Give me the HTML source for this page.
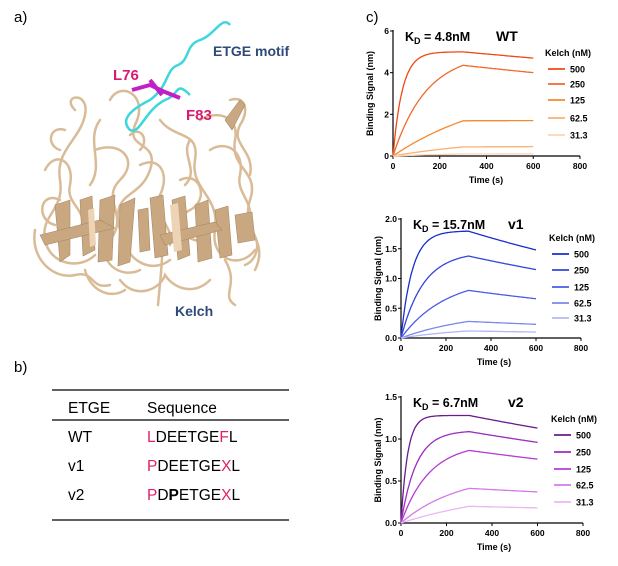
<!DOCTYPE html>
<html><head><meta charset="utf-8"><style>
body{margin:0;background:#fff;width:618px;height:561px;overflow:hidden;font-family:"Liberation Sans",Arial,sans-serif}
svg text{font-family:"Liberation Sans",Arial,sans-serif}
</style></head><body>
<svg id="s" width="618" height="561" viewBox="0 0 618 561">
<text x="14" y="22" font-size="15">a)</text>
<text x="14" y="372" font-size="15">b)</text>
<text x="366" y="22" font-size="15">c)</text>
<!-- protein -->
<g fill="none" stroke="#d9bc97" stroke-width="2.5" stroke-linecap="round">
<path d="M75 110 C60 95 90 90 85 115 C80 140 55 150 60 180 C65 210 40 215 45 240 C50 265 80 270 95 255"/>
<path d="M110 100 C120 80 150 95 135 125 C125 150 160 140 150 170 C140 200 110 190 120 230 C125 260 150 275 170 260"/>
<path d="M160 120 C175 140 200 130 195 160 C190 190 220 195 215 230 C210 260 240 270 255 250"/>
<path d="M200 120 C215 110 240 115 235 140 C230 170 260 170 250 200 C240 230 270 240 255 270"/>
<path d="M95 150 C120 140 140 160 120 180 C100 200 130 215 110 240 C95 260 120 280 140 270"/>
<path d="M230 100 C245 95 250 110 240 125 C230 145 255 150 250 175"/>
<path d="M60 200 C40 190 35 220 55 225"/>
<path d="M160 220 C165 250 160 280 158 305"/>
<path d="M180 180 C200 170 210 200 190 210 C170 220 185 245 205 240"/>
<path d="M130 135 C140 125 150 140 140 150"/>
<path d="M45 170 C55 150 75 160 70 185 C65 205 90 210 80 230"/>
<path d="M35 230 C30 260 55 280 75 275 C95 270 90 290 110 285"/>
<path d="M100 120 C85 140 105 165 90 185"/>
<path d="M140 165 C160 155 170 175 160 195 C150 215 175 225 170 245"/>
<path d="M210 150 C225 140 245 150 240 175 C235 195 260 205 245 225"/>
<path d="M120 280 C135 300 160 290 165 275 C175 290 195 295 210 280"/>
<path d="M225 260 C240 285 220 295 235 305"/>
<path d="M85 270 C90 290 110 300 125 290"/>
<path d="M190 140 C180 155 200 170 185 185"/>
<path d="M65 130 C50 125 45 145 60 150"/>
<path d="M250 230 C262 240 258 260 245 265"/>
</g>
<g fill="#c9a781" stroke="#a88a66" stroke-width="0.6">
<polygon points="55,205 70,200 70,255 60,262"/>
<polygon points="80,200 92,196 95,250 83,256"/>
<polygon points="100,200 115,195 112,260 98,262"/>
<polygon points="120,205 135,198 130,262 118,266"/>
<polygon points="150,198 163,195 168,255 155,258"/>
<polygon points="172,200 185,196 190,255 178,260"/>
<polygon points="195,205 208,200 212,258 198,262"/>
<polygon points="215,210 228,206 232,255 220,258"/>
<polygon points="40,235 100,220 115,228 45,245"/>
<polygon points="160,235 215,222 222,230 165,245"/>
<polygon points="225,120 240,100 245,105 232,130"/>
<polygon points="235,215 252,212 255,240 238,243"/>
<polygon points="138,210 148,208 150,250 140,252"/>
</g>
<g fill="#ecd4b5"><polygon points="170,205 178,203 182,250 174,252"/><polygon points="88,210 94,208 96,245 90,247"/></g>
<path d="M230 25 C222 15 215 35 200 40 C185 45 190 60 178 65 C165 70 170 85 150 100 C130 110 120 120 130 130 C140 135 145 110 165 100 C180 95 175 80 190 95" fill="none" stroke="#3fd6dc" stroke-width="2.5"/>
<g stroke="#c21fc4" stroke-width="4" fill="none"><path d="M132 90 L150 85 L165 92 L180 98"/><path d="M150 80 L162 95"/></g>
<text x="113" y="80" font-size="15" font-weight="bold" fill="#d81b72">L76</text>
<text x="186" y="120" font-size="15" font-weight="bold" fill="#d81b72">F83</text>
<text x="213" y="56" font-size="14" font-weight="bold" fill="#2e4a78">ETGE motif</text>
<text x="175" y="316" font-size="14" font-weight="bold" fill="#2e4a78">Kelch</text>
<!-- table -->
<g stroke="#000" stroke-width="1.3"><line x1="52" y1="390" x2="289" y2="390"/><line x1="52" y1="420" x2="289" y2="420"/><line x1="52" y1="520" x2="289" y2="520"/></g>
<g font-size="15.5">
<text x="68" y="413">ETGE</text><text x="147" y="413">Sequence</text>
<text x="68" y="442">WT</text><text x="147" y="442"><tspan fill="#e01e6a">L</tspan>DEETGE<tspan fill="#e01e6a">F</tspan>L</text>
<text x="68" y="471">v1</text><text x="147" y="471"><tspan fill="#e01e6a">P</tspan>DEETGE<tspan fill="#e01e6a">X</tspan>L</text>
<text x="68" y="500">v2</text><text x="147" y="500"><tspan fill="#e01e6a">P</tspan>D<tspan font-weight="bold">P</tspan>ETGE<tspan fill="#e01e6a">X</tspan>L</text>
</g>
<g id="charts"></g>
</svg>
<script>
var g=document.getElementById('charts'),h='';
function ch(o){
 var x0=o.x0,y0=o.y0,yt=o.yt,x8=o.x8,sx=(x8-x0)/800,sy=(y0-yt)/o.ymax;
 h+='<line x1="'+x0+'" y1="'+(yt-1)+'" x2="'+x0+'" y2="'+y0+'" stroke="#000" stroke-width="1.2"/>';
 h+='<line x1="'+x0+'" y1="'+y0+'" x2="'+x8+'" y2="'+y0+'" stroke="#000" stroke-width="1.2"/>';
 for(var i=0;i<=4;i++){var x=x0+i*200*sx;h+='<line x1="'+x+'" y1="'+y0+'" x2="'+x+'" y2="'+(y0+3)+'" stroke="#000"/><text x="'+x+'" y="'+(y0+13)+'" font-size="8.5" font-weight="bold" text-anchor="middle">'+i*200+'</text>';}
 o.ticks.forEach(function(t){var y=y0-t*sy;h+='<line x1="'+(x0-3)+'" y1="'+y+'" x2="'+x0+'" y2="'+y+'" stroke="#000"/><text x="'+(x0-4)+'" y="'+(y+3)+'" font-size="8.5" font-weight="bold" text-anchor="end">'+o.tl(t)+'</text>';});
 h+='<text x="'+(x0+93)+'" y="'+(y0+27)+'" font-size="9" font-weight="bold" text-anchor="middle">Time (s)</text>';
 h+='<text transform="translate('+(x0-20)+','+((y0+yt)/2)+') rotate(-90)" font-size="9" font-weight="bold" text-anchor="middle">Binding Signal (nm)</text>';
 h+='<text x="'+(x0+12)+'" y="'+(yt+10)+'" font-size="12.5" font-weight="bold">K<tspan font-size="9" dy="3">D</tspan><tspan dy="-3"> = '+o.kd+'</tspan></text>';
 h+='<text x="'+o.lx+'" y="'+(yt+10)+'" font-size="14" font-weight="bold">'+o.name+'</text>';
 h+='<text x="'+o.kx+'" y="'+o.ky+'" font-size="9" font-weight="bold">Kelch (nM)</text>';
 var labs=['500','250','125','62.5','31.3'];
 o.s.forEach(function(c,j){
  var A=c[0],k=c[1],end=c[2],col=o.col[j],p300=A*(1-Math.exp(-k*300)),kd=Math.log(p300/end)/300,pts=[];
  for(var t=0;t<=600;t+=5){var v=t<=300?A*(1-Math.exp(-k*t)):p300*Math.exp(-kd*(t-300));pts.push((x0+t*sx).toFixed(1)+','+(y0-v*sy).toFixed(1));}
  h+='<polyline points="'+pts.join(' ')+'" fill="none" stroke="'+col+'" stroke-width="1.3"/>';
  var ly=o.ly[j];h+='<line x1="'+(o.kx+3)+'" y1="'+ly+'" x2="'+(o.kx+20)+'" y2="'+ly+'" stroke="'+col+'" stroke-width="1.8"/><text x="'+(o.kx+25)+'" y="'+(ly+3.5)+'" font-size="9" font-weight="bold">'+labs[j]+'</text>';
 });
}
ch({x0:393,y0:156,yt:31,x8:580,ymax:6,ticks:[0,2,4,6],tl:function(t){return t},kd:'4.8nM',name:'WT',lx:496,kx:545,ky:56,ly:[69,84,100,118,135],
 col:['#ef4a12','#f2692a','#f5892f','#f8b272','#fad6b4'],s:[[5.0,0.025,4.7],[4.96,0.007,4.0],[3.5,0.0022,1.7],[0.9,0.0022,0.45],[0.2,0.0022,0.1]]});
ch({x0:401,y0:338,yt:219,x8:581,ymax:2,ticks:[0,0.5,1,1.5,2],tl:function(t){return t.toFixed(1)},kd:'15.7nM',name:'v1',lx:508,kx:549,ky:241,ly:[254,270,287,303,318],
 col:['#1a2dd0','#3046df','#4a5ce8','#7b87ee','#b2b8f5'],s:[[1.8,0.02,1.48],[1.45,0.01,1.15],[1.03,0.005,0.66],[0.47,0.003,0.23],[0.2,0.003,0.1]]});
ch({x0:401,y0:523,yt:397,x8:583,ymax:1.5,ticks:[0,0.5,1,1.5],tl:function(t){return t.toFixed(1)},kd:'6.7nM',name:'v2',lx:508,kx:551,ky:422,ly:[435,452,469,485,502],
 col:['#6b1b8f','#9a2dc1','#b43bd4','#d27be7','#e8b8f2'],s:[[1.28,0.035,1.13],[1.10,0.015,0.96],[0.95,0.008,0.76],[0.59,0.004,0.37],[0.44,0.002,0.18]]});
g.innerHTML=h;
</script>
</body></html>
